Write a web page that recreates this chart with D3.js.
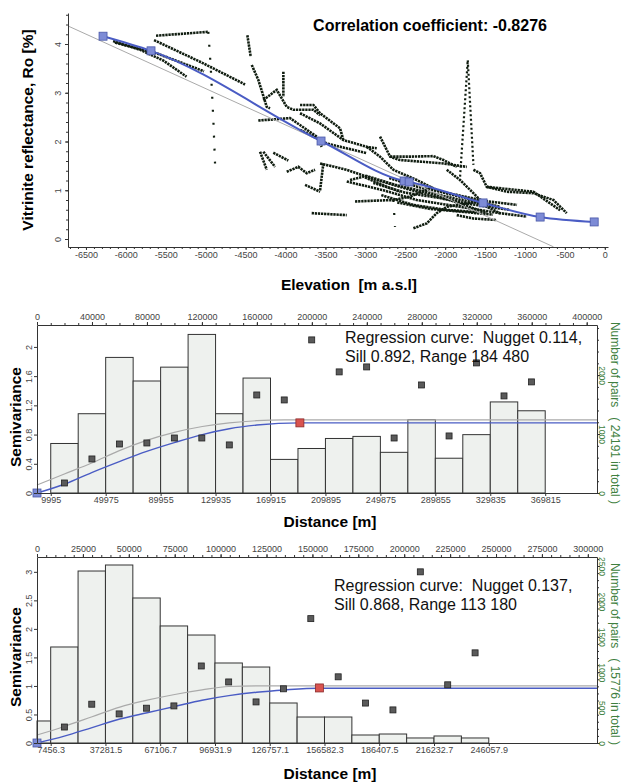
<!DOCTYPE html>
<html>
<head>
<meta charset="utf-8">
<script src="https://cdn.jsdelivr.net/npm/d3@7"></script>
<style>
body { margin: 0; background: #fff; }
svg { display: block; font-family: Arial, "Liberation Sans", sans-serif; }
.tick text { fill: #444; font-size: 9px; }
.domain, .tick line { stroke: #333; }
</style>
</head>
<body>
<svg id="chart" width="624" height="783"></svg>
<script>
// ---------- top panel: Ro vs elevation ----------
const elevTicks = [-6500, -6000, -5500, -5000, -4500, -4000, -3500, -3000, -2500, -2000, -1500, -1000, -500, 0];
const roTicks = [0, 1, 2, 3, 4];
const trendElev = [-6286, -5685, -3555, -2514, -2451, -1525, -810, -133];
const trendRo = [4.16, 3.86, 2.01, 1.19, 1.17, 0.74, 0.45, 0.35];
const regElev = [-6725, -643];
const regRo = [4.37, -0.16];
const corrText = 'Correlation coefficient: -0.8276';

// well tracks, [elevation, Ro] vertices
const wellTracks = [
  [[-6160, 4.06], [-5820, 3.88], [-5530, 3.66], [-5240, 3.33]],
  [[-6136, 4.03], [-5600, 3.80], [-5021, 3.44]],
  [[-5622, 4.17], [-4967, 4.25]],
  [[-5647, 4.08], [-5050, 3.62], [-4507, 3.17]],
  [[-4478, 4.18], [-4436, 3.74]],
  [[-4423, 3.57], [-4340, 3.26], [-4235, 2.71], [-4194, 2.68]],
  [[-4278, 2.85], [-4110, 3.06], [-3985, 2.71], [-3902, 2.65], [-3651, 2.65], [-3567, 2.54]],
  [[-4027, 3.43], [-4027, 2.92]],
  [[-4341, 2.43], [-3944, 2.48], [-3609, 2.10], [-3546, 1.89]],
  [[-4319, 1.79], [-4235, 1.42]],
  [[-4278, 1.79], [-4131, 1.48]],
  [[-4153, 1.77], [-3965, 1.61]],
  [[-3985, 1.38], [-3839, 1.48], [-3734, 1.35], [-3630, 1.42]],
  [[-3755, 1.11], [-3567, 0.97]],
  [[-3672, 0.53], [-3233, 0.49]],
  [[-3818, 2.75], [-3651, 2.75], [-3567, 2.58], [-3317, 2.27], [-3275, 2.03]],
  [[-3818, 2.58], [-3567, 2.37], [-3275, 2.03], [-2982, 1.89], [-2857, 1.86]],
  [[-3818, 2.24], [-3484, 1.96], [-2982, 1.76]],
  [[-2690, 1.69], [-2440, 1.69], [-2147, 1.70], [-2022, 1.62], [-1855, 1.48]],
  [[-2982, 1.89], [-2816, 1.69], [-2649, 1.42], [-2356, 1.21], [-2064, 0.97], [-1646, 0.80], [-1312, 0.66]],
  [[-3567, 1.55], [-3233, 1.42], [-2857, 1.21], [-2440, 1.01], [-1939, 0.80], [-1479, 0.53]],
  [[-2816, 2.10], [-2690, 1.69], [-2565, 1.62], [-2022, 1.55], [-1729, 1.48]],
  [[-3129, 0.77], [-2649, 0.80], [-2440, 0.87], [-2147, 1.07]],
  [[-2398, 0.22], [-2231, 0.32], [-2106, 0.53], [-1980, 0.66], [-1729, 0.73], [-1479, 0.80]],
  [[-1855, 0.49], [-1646, 0.42], [-1354, 0.39]],
  [[-1980, 1.42], [-1813, 1.21], [-1646, 0.94], [-1479, 0.66], [-1312, 0.53], [-978, 0.46]],
  [[-1646, 1.42], [-1563, 1.35], [-1479, 1.07], [-1229, 0.97], [-895, 0.94], [-644, 0.80], [-477, 0.53]],
  [[-1479, 1.07], [-895, 0.97], [-560, 0.59]],
  [[-3233, 1.18], [-2774, 1.00], [-2356, 0.80], [-1813, 0.66], [-1312, 0.53]],
  [[-3567, 1.00], [-3526, 1.55]],
  [[-3192, 1.21], [-3025, 1.28], [-2732, 1.07], [-2565, 0.97]],
  [[-2900, 1.15], [-2500, 0.95], [-2100, 0.85], [-1700, 0.72], [-1200, 0.60]],
  [[-2800, 0.90], [-2400, 0.70], [-2000, 0.60], [-1600, 0.55]],
  [[-3000, 1.30], [-2600, 1.10], [-2200, 0.95], [-1800, 0.80], [-1400, 0.68]],
  [[-2700, 1.25], [-2300, 1.05], [-1900, 0.92], [-1500, 0.78], [-1100, 0.70]],
  [[-2600, 0.75], [-2200, 0.62], [-1800, 0.56], [-1400, 0.50]]
];
// widely spaced dotted columns
const sparseTracks = [
  [[-4967, 4.25], [-4937, 3.53], [-4904, 2.44], [-4883, 1.55]],
  [[-2649, 0.80], [-2628, 0.25]]
];
const spikeTrack = [[-1813, 1.28], [-1717, 3.67], [-1646, 1.52]];

// ---------- middle panel: variogram 1 ----------
const topTicks1 = [0, 40000, 80000, 120000, 160000, 200000, 240000, 280000, 320000, 360000, 400000];
const bottomLabels1 = [9995, 49975, 89955, 129935, 169915, 209895, 249875, 289855, 329835, 369815];
const semiTicks1 = [0, 0.4, 0.8, 1.2, 1.6, 2];
const pairTicks1 = [0, 1000, 2000];
const binEdges1 = [9995, 29985, 49975, 69965, 89955, 109945, 129935, 149925, 169915, 189905,
  209895, 229885, 249875, 269865, 289855, 309845, 329835, 349825, 369815];
const pairs1 = [840, 1345, 2300, 1900, 2135, 2690, 1345, 1950, 570, 755, 925, 960, 690, 1245, 590, 990, 1545, 1395];
const lags1 = [19990, 39980, 59970, 79960, 99950, 119940, 139930, 159920, 179910, 199900,
  219890, 239880, 259870, 279860, 299850, 319840, 339830, 359820];
const semi1 = [0.137, 0.466, 0.671, 0.685, 0.753, 0.753, 0.658, 1.342, 1.274, 2.096,
  1.658, 1.726, 0.753, 1.479, 0.781, 1.781, 1.329, 1.521];
const fitX1 = [0, 19900, 39800, 59900, 79800, 99900, 120300, 139900, 160000, 191300, 407500];
const fitY1 = [0, 0.12, 0.28, 0.43, 0.57, 0.69, 0.80, 0.88, 0.93, 0.96, 0.96];
const modelX1 = [0, 19900, 39800, 59900, 79800, 99900, 120300, 139900, 160000, 180000, 200000, 407500];
const modelY1 = [0.11, 0.26, 0.41, 0.58, 0.72, 0.83, 0.91, 0.96, 0.99, 1.0, 1.0, 1.0];
const rangeMark1 = [191300, 0.96];
const regText1 = ['Regression curve:  Nugget 0.114,', 'Sill 0.892, Range 184 480'];
const pairsTitle1 = 'Number of pairs   ( 24191 in total )';

// ---------- bottom panel: variogram 2 ----------
const topTicks2 = [0, 25000, 50000, 75000, 100000, 125000, 150000, 175000, 200000, 225000, 250000, 275000, 300000];
const bottomLabels2 = [7456.3, 37281.5, 67106.7, 96931.9, 126757.1, 156582.3, 186407.5, 216232.7, 246057.9];
const semiTicks2 = [0, 0.5, 1, 1.5, 2, 2.5, 3];
const pairTicks2 = [0, 500, 1000, 1500, 2000, 2500];
const binEdges2 = [0, 7456.3, 22368.9, 37281.5, 52194.1, 67106.7, 82019.3, 96931.9, 111844.5,
  126757.1, 141669.7, 156582.3, 171494.9, 186407.5, 201320.1, 216232.7, 231145.3, 246057.9];
const pairs2 = [311, 1356, 2429, 2514, 2048, 1653, 1525, 1130, 1073, 565, 367, 367, 113, 127, 71, 99, 71];
const lags2 = [14912.6, 29825.2, 44737.8, 59650.4, 74563, 89475.6, 104388.2, 119300.8,
  134213.4, 149126, 164038.6, 178951.2, 193863.8, 208776.4, 223689, 238601.6];
const semi2 = [0.28, 0.68, 0.51, 0.61, 0.65, 1.35, 1.07, 0.72, 0.95, 2.18, 1.16, 0.70, 0.58, 3.0, 1.02, 1.58];
const fitX2 = [0, 14850, 30000, 45100, 60000, 75000, 89900, 104500, 119600, 134800, 153300, 305000];
const fitY2 = [0, 0.12, 0.27, 0.42, 0.53, 0.64, 0.75, 0.83, 0.89, 0.93, 0.96, 0.96];
const modelX2 = [0, 14850, 30000, 45100, 60000, 75000, 89900, 104500, 119600, 135000, 305000];
const modelY2 = [0.14, 0.29, 0.46, 0.63, 0.75, 0.85, 0.93, 0.99, 1.0, 1.0, 1.0];
const rangeMark2 = [153800, 0.965];
const regText2 = ['Regression curve:  Nugget 0.137,', 'Sill 0.868, Range 113 180'];
const pairsTitle2 = 'Number of pairs   ( 15776 in total )';

const svg = d3.select('#chart');
svg.append('rect').attr('width', 624).attr('height', 783).attr('fill', '#fff');

const blue = '#4a5cc4';
const green = '#3f7f3f';
const plain = d => String(d);

// ===== top panel =====
const p1 = { left: 68, right: 608, top: 13, bottom: 247 };
const xE = d3.scaleLinear().domain([-6725, 40]).range([p1.left, p1.right]);
const yR = d3.scaleLinear().domain([-0.164, 4.636]).range([p1.bottom, p1.top]);
const g1 = svg.append('g');

const trackLine = d3.line().x(d => xE(d[0])).y(d => yR(d[1]));
g1.selectAll('path.track').data(wellTracks).join('path')
  .attr('class', 'track')
  .attr('d', trackLine)
  .attr('fill', 'none')
  .attr('stroke', '#101d10')
  .attr('stroke-width', 2.6)
  .attr('stroke-dasharray', '2.3,0.8');
g1.selectAll('path.sparse').data(sparseTracks).join('path')
  .attr('class', 'sparse')
  .attr('d', trackLine)
  .attr('fill', 'none')
  .attr('stroke', '#101d10')
  .attr('stroke-width', 2.2)
  .attr('stroke-dasharray', '2,11');
g1.append('path')
  .attr('d', trackLine(spikeTrack))
  .attr('fill', 'none')
  .attr('stroke', '#101d10')
  .attr('stroke-width', 2.2)
  .attr('stroke-dasharray', '2,2.5');

g1.append('path')
  .attr('d', d3.line()(regElev.map((e, i) => [xE(e), yR(regRo[i])])))
  .attr('stroke', '#aaa').attr('stroke-width', 1).attr('fill', 'none');

const trend = trendElev.map((e, i) => [e, trendRo[i]]);
g1.append('path')
  .attr('d', d3.line().x(d => xE(d[0])).y(d => yR(d[1])).curve(d3.curveMonotoneX)(trend))
  .attr('stroke', blue).attr('stroke-width', 2).attr('fill', 'none');
g1.selectAll('rect.tm').data(trend).join('rect')
  .attr('class', 'tm')
  .attr('x', d => xE(d[0]) - 4).attr('y', d => yR(d[1]) - 4)
  .attr('width', 8).attr('height', 8)
  .attr('fill', '#7d8bd6').attr('stroke', '#4a58a8').attr('stroke-width', 0.8);

g1.append('g').attr('transform', `translate(0,${p1.bottom})`)
  .call(d3.axisBottom(xE).tickValues(elevTicks).tickSize(3).tickSizeOuter(0).tickPadding(2).tickFormat(plain));
g1.append('g').attr('transform', `translate(0,${p1.bottom})`)
  .call(d3.axisBottom(xE).tickValues(d3.range(-6700, 1, 100)).tickSize(2).tickFormat(''))
  .select('.domain').remove();
const yAxis1 = g1.append('g').attr('transform', `translate(${p1.left},0)`)
  .call(d3.axisLeft(yR).tickValues(roTicks).tickSize(3).tickSizeOuter(0).tickFormat(plain));
g1.append('g').attr('transform', `translate(${p1.left},0)`)
  .call(d3.axisLeft(yR).tickValues(d3.range(0, 4.61, 0.2)).tickSize(2).tickFormat(''))
  .select('.domain').remove();
yAxis1.selectAll('.tick text')
  .attr('x', 0).attr('dy', 0)
  .attr('text-anchor', 'middle')
  .attr('transform', 'translate(-7,0) rotate(-90)');

g1.append('text')
  .attr('transform', 'translate(33,130) rotate(-90)')
  .attr('text-anchor', 'middle')
  .attr('font-size', 15.5).attr('font-weight', 'bold')
  .text('Vitrinite reflectance, Ro [%]');
g1.append('text')
  .attr('x', 430).attr('y', 31)
  .attr('text-anchor', 'middle')
  .attr('font-size', 16).attr('font-weight', 'bold')
  .text(corrText);
g1.append('text')
  .attr('x', 349).attr('y', 290)
  .attr('text-anchor', 'middle')
  .attr('font-size', 15.5).attr('font-weight', 'bold')
  .attr('xml:space', 'preserve')
  .text('Elevation  [m a.s.l]');

// ===== variogram panels =====
function drawVariogram(c) {
  const L = 37, R = 597;
  const g = svg.append('g');
  const x = d3.scaleLinear().domain([0, c.xMax]).range([L, R]);
  const y = d3.scaleLinear().domain([0, c.yMax]).range([c.bottom, c.top]);
  const yp = d3.scaleLinear().domain([0, c.pMax]).range([c.bottom, c.top]);

  g.selectAll('rect.bar').data(c.pairs).join('rect')
    .attr('class', 'bar')
    .attr('x', (d, i) => x(c.edges[i]))
    .attr('width', (d, i) => x(c.edges[i + 1]) - x(c.edges[i]))
    .attr('y', d => yp(d))
    .attr('height', d => c.bottom - yp(d))
    .attr('fill', '#eef1ee')
    .attr('stroke', '#333')
    .attr('stroke-width', 1);

  const line = d3.line().x(d => x(d[0])).y(d => y(d[1])).curve(d3.curveMonotoneX);
  g.append('path')
    .attr('d', line(c.modelX.map((v, i) => [v, c.modelY[i]])))
    .attr('fill', 'none').attr('stroke', '#aaa').attr('stroke-width', 1.2);
  g.append('path')
    .attr('d', line(c.fitX.map((v, i) => [v, c.fitY[i]])))
    .attr('fill', 'none').attr('stroke', blue).attr('stroke-width', 1.4);

  g.selectAll('rect.pt').data(c.lags).join('rect')
    .attr('class', 'pt')
    .attr('x', d => x(d) - 3).attr('y', (d, i) => y(c.semi[i]) - 3)
    .attr('width', 6).attr('height', 6)
    .attr('fill', '#5a5a5a').attr('stroke', '#222').attr('stroke-width', 0.8);

  g.append('rect')
    .attr('x', x(c.rangeMark[0]) - 4).attr('y', y(c.rangeMark[1]) - 4)
    .attr('width', 8).attr('height', 8)
    .attr('fill', '#d9534f').attr('stroke', '#8a2a2a').attr('stroke-width', 0.8);
  g.append('rect')
    .attr('x', x(0) - 4).attr('y', y(0) - 4)
    .attr('width', 8).attr('height', 8)
    .attr('fill', '#7d8bd6').attr('stroke', '#4a58a8').attr('stroke-width', 0.8);

  // axes
  g.append('g').attr('transform', `translate(0,${c.top})`)
    .call(d3.axisTop(x).tickValues(c.topTicks).tickSize(3).tickSizeOuter(0).tickPadding(2).tickFormat(plain));
  g.append('g').attr('transform', `translate(0,${c.top})`)
    .call(d3.axisTop(x).tickValues(d3.range(0, c.xMax, c.topMinor)).tickSize(2).tickFormat(''))
    .select('.domain').remove();
  g.append('g').attr('transform', `translate(0,${c.bottom})`)
    .call(d3.axisBottom(x).tickValues(c.bottomLabels).tickSize(3).tickSizeOuter(0).tickPadding(1).tickFormat(plain));
  const ya = g.append('g').attr('transform', `translate(${L},0)`)
    .call(d3.axisLeft(y).tickValues(c.semiTicks).tickSize(3).tickSizeOuter(0).tickFormat(plain));
  ya.selectAll('.tick text')
    .attr('x', 0).attr('dy', 0)
    .attr('text-anchor', 'middle')
    .attr('transform', 'translate(-5,0) rotate(-90)');
  const pa = g.append('g').attr('transform', `translate(${R},0)`)
    .call(d3.axisRight(yp).tickValues(c.pairTicks).tickSize(3).tickSizeOuter(0).tickFormat(plain));
  g.append('g').attr('transform', `translate(${R},0)`)
    .call(d3.axisRight(yp).tickValues(d3.range(0, c.pMax, c.pairMinor)).tickSize(2).tickFormat(''))
    .select('.domain').remove();
  pa.selectAll('.tick text')
    .attr('x', 0).attr('dy', 0)
    .attr('text-anchor', 'middle')
    .style('fill', green)
    .style('font-size', '8.5px')
    .attr('transform', 'translate(2,0) rotate(90)');

  g.append('text')
    .attr('transform', `translate(611,${(c.top + c.bottom) / 2 + 4}) rotate(90)`)
    .attr('text-anchor', 'middle')
    .attr('font-size', 12).attr('fill', green)
    .attr('xml:space', 'preserve')
    .text(c.pairsTitle);
  g.append('text')
    .attr('transform', `translate(21,${(c.top + c.bottom) / 2 + c.semiShift}) rotate(-90)`)
    .attr('text-anchor', 'middle')
    .attr('font-size', 15.5).attr('font-weight', 'bold')
    .text('Semivariance');
  g.append('text')
    .attr('x', 330).attr('y', c.titleY)
    .attr('text-anchor', 'middle')
    .attr('font-size', 15.5).attr('font-weight', 'bold')
    .text('Distance [m]');
  c.regText.forEach((t, i) => {
    g.append('text')
      .attr('x', c.regX).attr('y', c.regY + i * 18.5)
      .attr('font-size', 16).attr('fill', '#111')
      .attr('xml:space', 'preserve')
      .text(t);
  });
}

drawVariogram({
  top: 325, bottom: 493, xMax: 407500, yMax: 2.30, pMax: 2850,
  topTicks: topTicks1, topMinor: 10000, bottomLabels: bottomLabels1,
  semiTicks: semiTicks1, pairTicks: pairTicks1, pairMinor: 200,
  edges: binEdges1, pairs: pairs1, lags: lags1, semi: semi1,
  fitX: fitX1, fitY: fitY1, modelX: modelX1, modelY: modelY1,
  rangeMark: rangeMark1, regText: regText1, regX: 345, regY: 343,
  pairsTitle: pairsTitle1, titleY: 527, semiShift: 8
});

drawVariogram({
  top: 557, bottom: 743, xMax: 305000, yMax: 3.26, pMax: 2627,
  topTicks: topTicks2, topMinor: 5000, bottomLabels: bottomLabels2,
  semiTicks: semiTicks2, pairTicks: pairTicks2, pairMinor: 100,
  edges: binEdges2, pairs: pairs2, lags: lags2, semi: semi2,
  fitX: fitX2, fitY: fitY2, modelX: modelX2, modelY: modelY2,
  rangeMark: rangeMark2, regText: regText2, regX: 334, regY: 591,
  pairsTitle: pairsTitle2, titleY: 779, semiShift: 7
});
</script>
</body>
</html>
